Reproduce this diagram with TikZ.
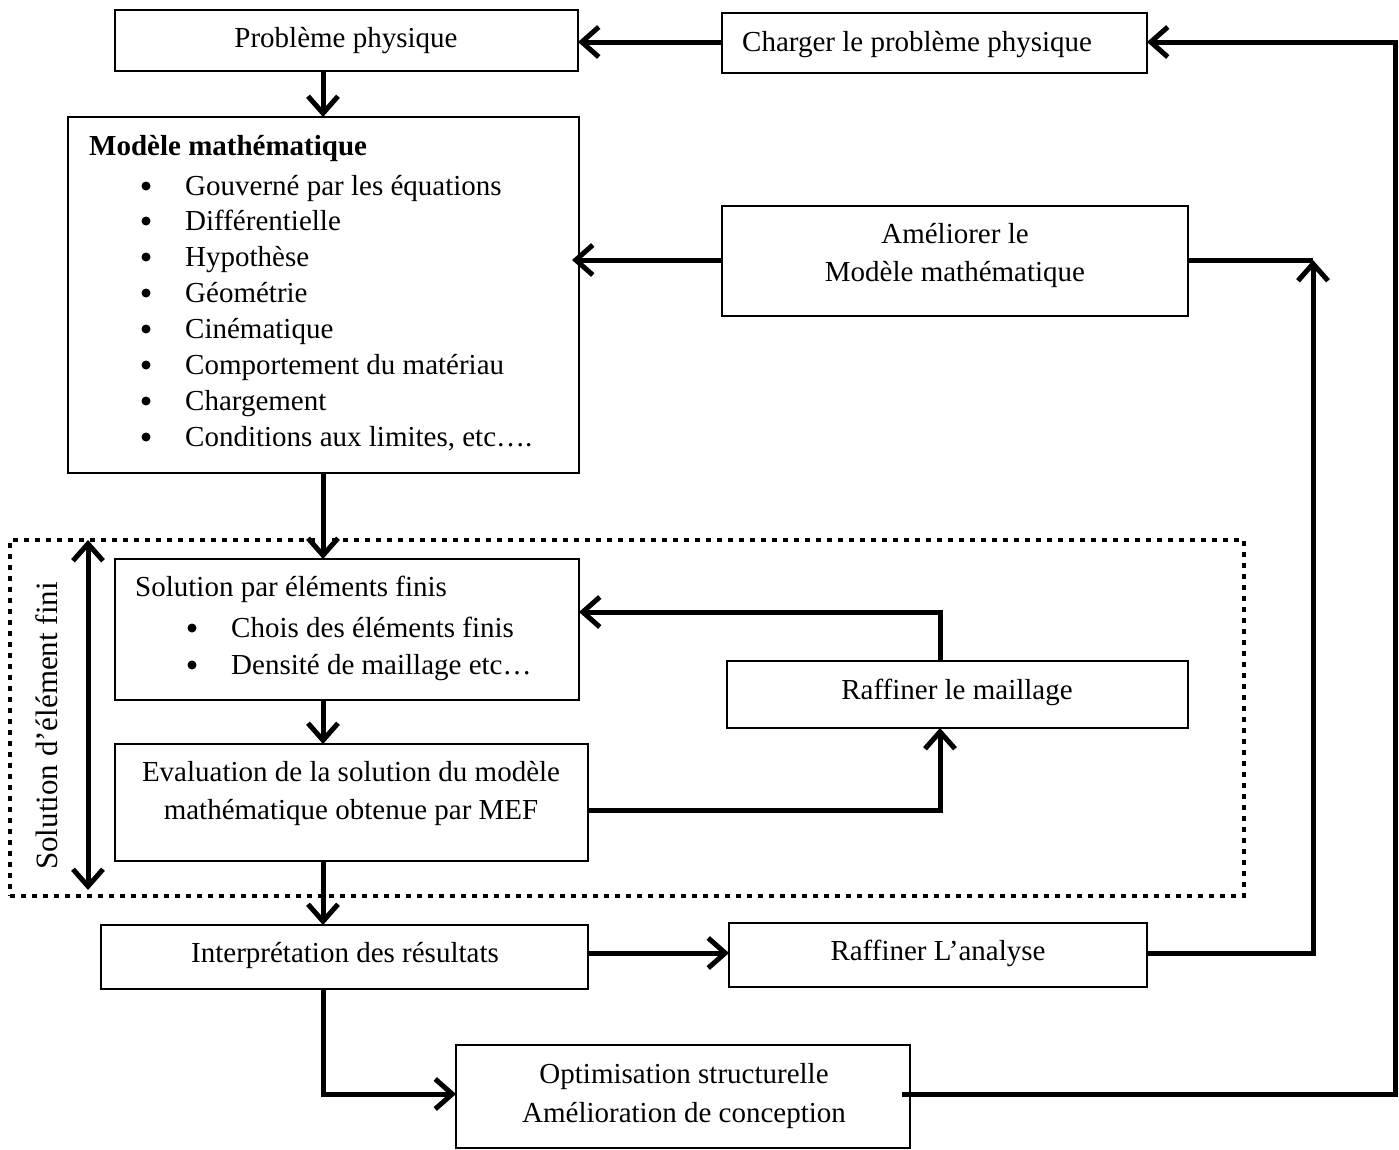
\documentclass[tikz,border=0pt]{standalone}
\usepackage{fontspec}
\setmainfont{Liberation Serif}
\usetikzlibrary{arrows.meta,calc}
\begin{document}
\begin{tikzpicture}[x=1pt,y=-1pt,
 box/.style={draw, line width=1.3pt, inner sep=0pt, outer sep=0pt, anchor=north west},
 barb/.tip={Straight Barb[length=17pt,width=30pt]},
 conn/.style={line width=5pt, -barb},
 plain/.style={line width=5pt},
 txt/.style={inner sep=0pt, font=\fontsize{29}{36}\selectfont},
 bul/.style={circle, fill, inner sep=0pt, minimum size=9pt},
 dotbox/.style={draw, line width=4pt, dash pattern=on 5pt off 6pt, inner sep=0pt, outer sep=0pt, anchor=north west},
]
\useasboundingbox (0,0) rectangle (1399,1149);

% boxes
\node[box, minimum width=463pt, minimum height=61pt] (p1) at (115,10) {};
\node[box, minimum width=425pt, minimum height=60pt] (p2) at (722,13) {};
\node[box, minimum width=511pt, minimum height=356pt] (m) at (68,117) {};
\node[box, minimum width=466pt, minimum height=110pt] (a) at (722,206) {};
\node[dotbox, minimum width=1234pt, minimum height=356pt] (fe) at (10,540) {};
\node[box, minimum width=464pt, minimum height=141pt] (s) at (115,559) {};
\node[box, minimum width=461pt, minimum height=67pt] (r) at (727,661) {};
\node[box, minimum width=473pt, minimum height=117pt] (e) at (115,744) {};
\node[box, minimum width=487pt, minimum height=64pt] (i) at (101,925) {};
\node[box, minimum width=418pt, minimum height=64pt] (ra) at (729,923) {};
\node[box, minimum width=454pt, minimum height=103pt] (o) at (456,1045) {};

% texts
\node[txt, anchor=mid] (p1t) at (346,45) {Problème physique};
\node[txt, anchor=mid west] (p2t) at (742,49) {Charger le problème physique};
\node[txt, anchor=mid west, font=\fontsize{29}{36}\selectfont\bfseries] (mt) at (89,153) {Modèle mathématique};
\foreach \y/\t [count=\k] in {186/Gouverné par les équations, 221/Différentielle, 257/Hypothèse, 293/Géométrie, 329/Cinématique, 365/Comportement du matériau, 401/Chargement, 437/{Conditions aux limites, etc….}}{
  \node[bul] (mb\k) at (146,\y) {};
  \node[txt, anchor=mid west] (ml\k) at (185,\y+7) {\t};
}
\node[txt, anchor=mid] (at1) at (955,241) {Améliorer le};
\node[txt, anchor=mid] (at2) at (955,279) {Modèle mathématique};
\node[txt, anchor=mid west] (st) at (135,594) {Solution par éléments finis};
\node[bul] (sb1) at (192,628) {};
\node[txt, anchor=mid west] (sl1) at (231,635) {Chois des éléments finis};
\node[bul] (sb2) at (192,665) {};
\node[txt, anchor=mid west] (sl2) at (231,672) {Densité de maillage etc…};
\node[txt, anchor=mid] (rt) at (957,697) {Raffiner le maillage};
\node[txt, anchor=mid] (et1) at (351,779) {Evaluation de la solution du modèle};
\node[txt, anchor=mid] (et2) at (351,817) {mathématique obtenue par MEF};
\node[txt, anchor=mid] (it) at (345,960) {Interprétation des résultats};
\node[txt, anchor=mid] (rat) at (938,958) {Raffiner L’analyse};
\node[txt, anchor=mid] (ot1) at (684,1081) {Optimisation structurelle};
\node[txt, anchor=mid] (ot2) at (684,1120) {Amélioration de conception};
\node[txt, anchor=mid, rotate=90, font=\fontsize{31}{36}\selectfont] (solt) at (55,726) {Solution d’élément fini};

% helper coordinates
\coordinate (c1) at (323,0);
\coordinate (c3) at (1313,0);
\coordinate (c4) at (1395.5,0);
\coordinate (c5) at (940,0);
\coordinate (mr) at (572,0);
\coordinate (hA) at (0,260);
\coordinate (hE) at (0,810);
\coordinate (hS) at (0,612);
\coordinate (hI) at (0,953);
\coordinate (hO) at (0,1094);
\coordinate (hP) at (0,42);
\coordinate (da1) at (88,540);
\coordinate (da2) at (88,890);

% connectors
\draw[conn] (p2.west |- hP) -- (p1.east |- hP);
\draw[conn] (p1.south -| c1) -- (m.north -| c1);
\draw[conn] (m.south -| c1) -- (s.north -| c1);
\draw[conn] (s.south -| c1) -- (e.north -| c1);
\draw[conn] (e.south -| c1) -- (i.north -| c1);
\draw[conn] (i.south -| c1) |- (o.west |- hO);
\draw[conn] ([xshift=-8pt]o.east |- hO) -| (c4 |- hP) -- (p2.east |- hP);
\draw[conn] (a.west |- hA) -- (mr |- hA);
\draw[plain] (a.east |- hA) -- (c3 |- hA);
\draw[conn] (ra.east |- hI) -| (c3 |- hA);
\draw[conn] (i.east |- hI) -- (ra.west |- hI);
\draw[conn] (e.east |- hE) -| (r.south -| c5);
\draw[conn] (r.north -| c5) |- (s.east |- hS);
\draw[line width=5pt, barb-barb] (da1) -- (da2);
\end{tikzpicture}
\end{document}
